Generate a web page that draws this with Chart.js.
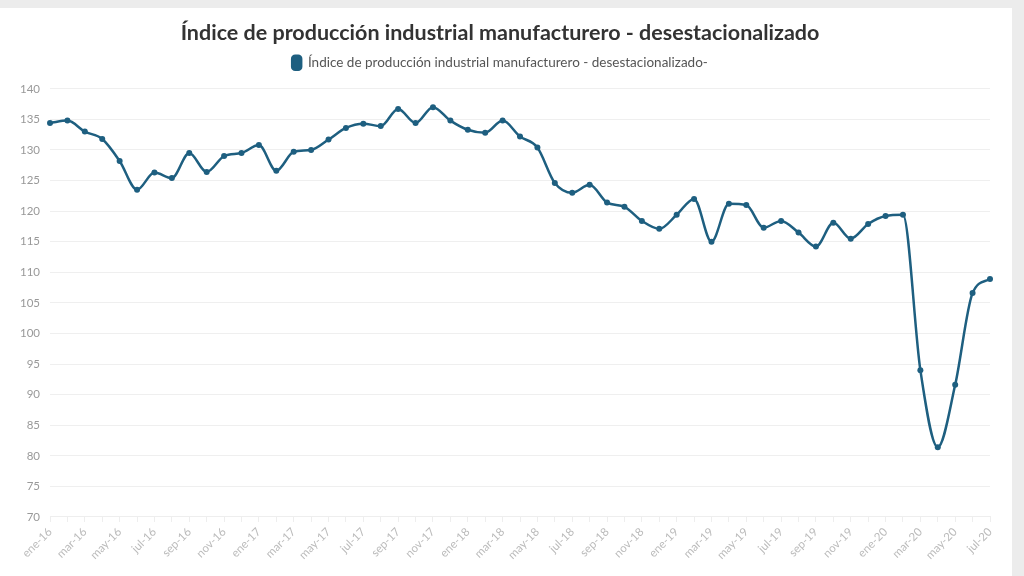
<!DOCTYPE html>
<html>
<head>
<meta charset="utf-8">
<script src="https://cdn.jsdelivr.net/npm/chart.js@4.4.1/dist/chart.umd.min.js"></script>
<style>
  html, body { margin: 0; padding: 0; background: #ececec; }
  #card { position: absolute; left: 0; top: 8px; width: 1012px; height: 568px; background: #fff; }
  #card canvas { display: block; }
</style>
</head>
<body>
<div id="card"><canvas id="ipi" width="1012" height="568"></canvas></div>
<script>
// meses ene-16 .. jul-20
const meses = ["ene", "feb", "mar", "abr", "may", "jun", "jul", "ago", "sep", "oct", "nov", "dic"];
const anios = ["16", "17", "18", "19", "20"];

const labels = [];
for (const a of anios) {
    for (const m of meses) {
        labels.push(m + "-" + a);
        if (a === "20" && m === "jul") break;
    }
}

// valores
const indice = [
    134.4, 134.8, 133.0, 131.8, 128.2, 123.5, 126.3, 125.4, 129.5, 126.4, 129.0, 129.5,
    130.8, 126.6, 129.7, 130.0, 131.7, 133.6, 134.3, 133.9, 136.7, 134.4, 137.0, 134.8,
    133.3, 132.8, 134.8, 132.2, 130.4, 124.6, 123.0, 124.3, 121.4, 120.7, 118.4, 117.1,
    119.4, 122.0, 115.0, 121.2, 121.0, 117.3, 118.4, 116.5, 114.2, 118.1, 115.5, 117.9,
    119.2, 119.4, 94.0, 81.4, 91.6, 106.6, 108.9
];

const serieNombre = "Índice de producción industrial manufacturero - desestacionalizado-";
const titulo = "Índice de producción industrial manufacturero - desestacionalizado";
const azul = "#1e5f80";

// un poco mas de aire entre la leyenda y el grafico
const legendGap = {
    id: "legendGap",
    beforeInit(chart) {
        const fit = chart.legend.fit;
        chart.legend.fit = function() {
            fit.bind(chart.legend)();
            this.height += 9;
        };
    }
};

new Chart("ipi", {
    type: "line",
    data: {
        labels: labels,
        datasets: [{
            label: serieNombre,
            data: indice,
            borderColor: azul,
            backgroundColor: azul,
            borderWidth: 2.5,
            pointRadius: 3,
            pointBackgroundColor: azul,
            pointBorderWidth: 0,
            cubicInterpolationMode: "monotone",
            fill: false
        }]
    },
    options: {
        responsive: false,
        animation: false,
        layout: { padding: { left: 10, right: 22, top: 8, bottom: 11 } },
        plugins: {
            title: {
                display: true,
                text: titulo,
                color: "#333",
                font: { family: "Lato", size: 21.5, weight: "bold" },
                padding: { top: 4, bottom: 4 }
            },
            legend: {
                position: "top",
                labels: {
                    color: "#555",
                    font: { family: "Lato", size: 13.5 },
                    boxWidth: 9,
                    boxHeight: 14,
                    useBorderRadius: true,
                    borderRadius: 3,
                    padding: 6
                }
            },
            tooltip: { enabled: false }
        },
        scales: {
            x: {
                grid: { drawOnChartArea: false, color: "#eee", tickLength: 5 },
                border: { color: "#eee" },
                ticks: {
                    autoSkip: false,
                    maxRotation: 45,
                    minRotation: 45,
                    color: "#bbb",
                    font: { family: "Lato", size: 11.5 },
                    callback: function(val, i) { return i % 2 === 0 ? this.getLabelForValue(val) : ""; }
                }
            },
            y: {
                min: 70,
                max: 140,
                grid: { color: "#efefef", tickLength: 0 },
                border: { display: false },
                ticks: {
                    stepSize: 5,
                    color: "#999",
                    padding: 10,
                    font: { family: "Lato", size: 11.5 }
                }
            }
        }
    },
    plugins: [legendGap]
});
</script>
</body>
</html>
